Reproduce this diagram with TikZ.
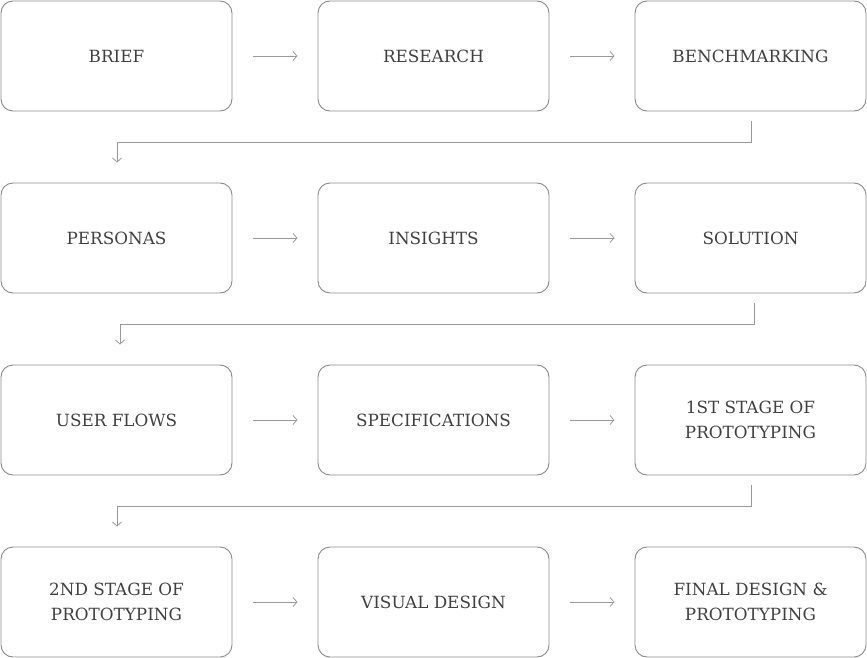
\documentclass[tikz,border=0pt]{standalone}
\usepackage{fontspec}
\setmainfont{DejaVu Serif}
\usetikzlibrary{arrows.meta}
\definecolor{boxline}{HTML}{8A8A8A}
\definecolor{flowline}{HTML}{9A9A9A}
\definecolor{steptext}{HTML}{404040}
\tikzset{
  stage/.style={draw=boxline,line width=0.9pt,rounded corners=12pt,
    minimum width=231pt,minimum height=110pt,align=center,
    text=steptext,font=\fontsize{16.8}{25}\selectfont},
  flow/.style={draw=flowline,line width=0.8pt,
    -{Straight Barb[length=4pt,width=9pt]}},
}
\begin{document}
\begin{tikzpicture}[x=1pt,y=-1pt]
\useasboundingbox (0,0) rectangle (867,658);
% row 1
\node[stage] (brief) at (116.5,56) {BRIEF};
\node[stage] (research) at (433.5,56) {RESEARCH};
\node[stage] (benchmarking) at (750.5,56) {BENCHMARKING};
% row 2
\node[stage] (personas) at (116.5,238) {PERSONAS};
\node[stage] (insights) at (433.5,238) {INSIGHTS};
\node[stage] (solution) at (750.5,238) {SOLUTION};
% row 3
\node[stage] (userflows) at (116.5,420) {USER FLOWS};
\node[stage] (specs) at (433.5,420) {SPECIFICATIONS};
\node[stage] (proto1) at (750.5,420) {1ST STAGE OF\\PROTOTYPING};
% row 4
\node[stage] (proto2) at (116.5,602) {2ND STAGE OF\\PROTOTYPING};
\node[stage] (visual) at (433.5,602) {VISUAL DESIGN};
\node[stage] (final) at (750.5,602) {FINAL DESIGN \&\\PROTOTYPING};
% arrows within a row
\foreach \a/\b in {brief/research,research/benchmarking,
  personas/insights,insights/solution,
  userflows/specs,specs/proto1,
  proto2/visual,visual/final}
  \draw[flow,shorten <=21pt,shorten >=20pt] (\a) -- (\b);
% arrows to next row
\draw[flow,shorten <=10pt,shorten >=20pt]
  ([xshift=0.5pt]benchmarking.south) -- ++(0,31) -| ([xshift=0.5pt]personas.north);
\draw[flow,shorten <=10pt,shorten >=20pt]
  ([xshift=3.5pt]solution.south) -- ++(0,31) -| ([xshift=3.5pt]userflows.north);
\draw[flow,shorten <=10pt,shorten >=20pt]
  ([xshift=0.5pt]proto1.south) -- ++(0,31) -| ([xshift=0.5pt]proto2.north);
\end{tikzpicture}
\end{document}
